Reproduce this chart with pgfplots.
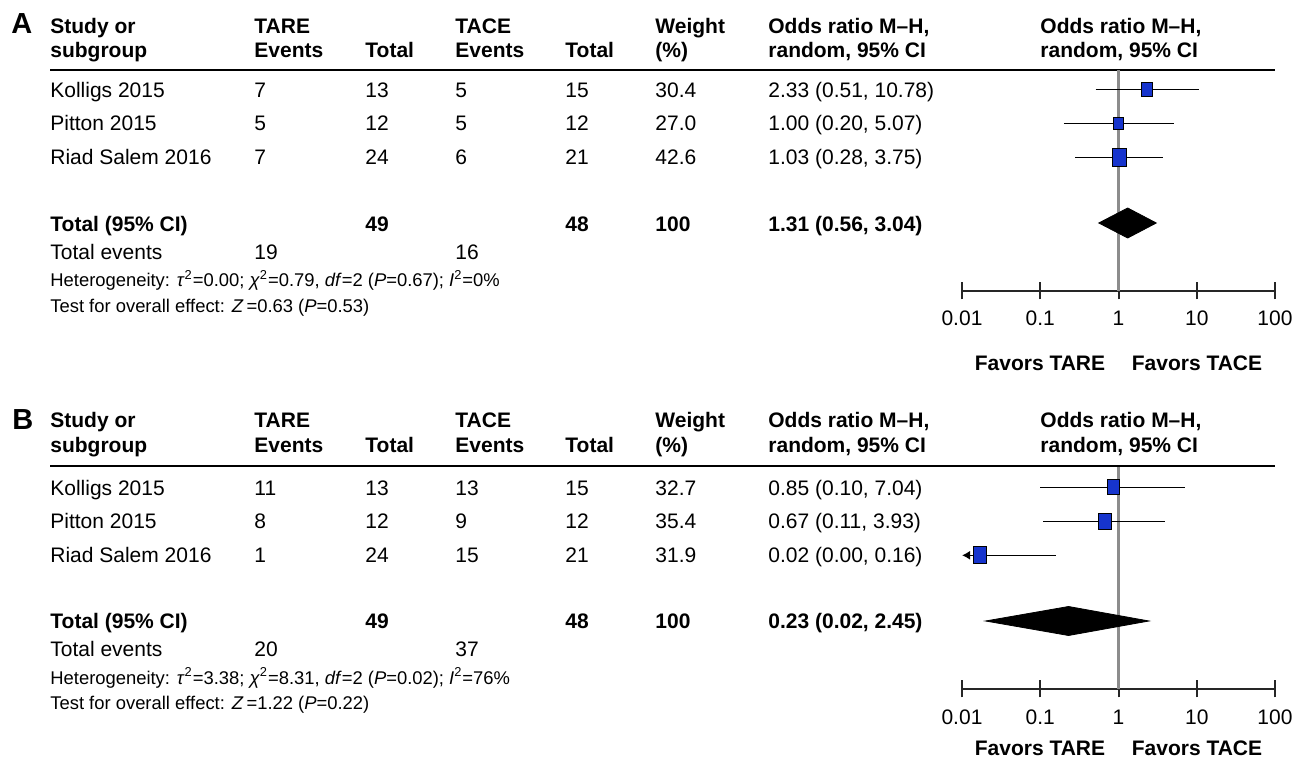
\documentclass[border=0pt]{standalone}
\usepackage{pgfplots}
\pgfplotsset{compat=1.18}
\usepackage{fontspec}
\setmainfont{Liberation Sans}
\usetikzlibrary{arrows.meta}
\definecolor{sqblue}{RGB}{22,52,205}
\definecolor{refgray}{RGB}{140,140,140}
\newcommand{\mf}{\fontsize{10.5}{12.6}\selectfont}
\newcommand{\smf}{\fontsize{9.2}{11}\selectfont}
\begin{document}
\begin{tikzpicture}
\path[use as bounding box] (0,0) rectangle (650.5pt,-379pt);
\begin{scope}[x=0.5pt,y=-0.5pt,every node/.style={inner sep=0pt, anchor=base west}]
% ---------------- Panel A text ----------------
\node[font=\fontsize{14.5}{17}\selectfont\bfseries] at (11,33.3) {A};
\begin{scope}[every node/.append style={font=\mf\bfseries}]
\node at (50,33.5) {Study or}; \node at (50,58) {subgroup};
\node at (254,33.5) {TARE}; \node at (254,58) {Events};
\node at (365,58) {Total};
\node at (455,33.5) {TACE}; \node at (455,58) {Events};
\node at (565,58) {Total};
\node at (655,33.5) {Weight}; \node at (655,58) {(\%)};
\node at (768,33.5) {Odds ratio M--H,}; \node at (768,58) {random, 95\% CI};
\node at (1040,33.5) {Odds ratio M--H,}; \node at (1040,58) {random, 95\% CI};
\node at (50,231.7) {Total (95\% CI)};
\node at (365,231.7) {49}; \node at (565,231.7) {48}; \node at (655,231.7) {100};
\node at (768,231.7) {1.31 (0.56, 3.04)};
\node[anchor=base] at (1040,370.5) {Favors TARE};
\node[anchor=base] at (1197,370.5) {Favors TACE};
\end{scope}
\draw[line width=0.75pt] (50,70) -- (1275,70);
\begin{scope}[every node/.append style={font=\mf}]
\node at (50,97.3) {Kolligs 2015}; \node at (254,97.3) {7}; \node at (365,97.3) {13};
\node at (455,97.3) {5}; \node at (565,97.3) {15}; \node at (655,97.3) {30.4};
\node at (768,97.3) {2.33 (0.51, 10.78)};
\node at (50,130.5) {Pitton 2015}; \node at (254,130.5) {5}; \node at (365,130.5) {12};
\node at (455,130.5) {5}; \node at (565,130.5) {12}; \node at (655,130.5) {27.0};
\node at (768,130.5) {1.00 (0.20, 5.07)};
\node at (50,164.3) {Riad Salem 2016}; \node at (254,164.3) {7}; \node at (365,164.3) {24};
\node at (455,164.3) {6}; \node at (565,164.3) {21}; \node at (655,164.3) {42.6};
\node at (768,164.3) {1.03 (0.28, 3.75)};
\node at (50,260) {Total events}; \node at (254,260) {19}; \node at (455,260) {16};
\end{scope}
\begin{scope}[every node/.append style={font=\smf}]
\node at (50,287) {Heterogeneity: \textit{τ}\textsuperscript{2}=0.00; \textit{χ}\textsuperscript{2}=0.79, \textit{df}=2 (\textit{P}=0.67); \textit{I}\textsuperscript{2}=0\%};
\node at (50,313) {Test for overall effect: \textit{Z}\,=0.63 (\textit{P}=0.53)};
\end{scope}
% ---------------- Panel B text ----------------
\node[font=\fontsize{14.5}{17}\selectfont\bfseries] at (12,429.5) {B};
\begin{scope}[every node/.append style={font=\mf\bfseries}]
\node at (50,428) {Study or}; \node at (50,453) {subgroup};
\node at (254,428) {TARE}; \node at (254,453) {Events};
\node at (365,453) {Total};
\node at (455,428) {TACE}; \node at (455,453) {Events};
\node at (565,453) {Total};
\node at (655,428) {Weight}; \node at (655,453) {(\%)};
\node at (768,428) {Odds ratio M--H,}; \node at (768,453) {random, 95\% CI};
\node at (1040,428) {Odds ratio M--H,}; \node at (1040,453) {random, 95\% CI};
\node at (50,628.5) {Total (95\% CI)};
\node at (365,628.5) {49}; \node at (565,628.5) {48}; \node at (655,628.5) {100};
\node at (768,628.5) {0.23 (0.02, 2.45)};
\node[anchor=base] at (1040,755.5) {Favors TARE};
\node[anchor=base] at (1197,755.5) {Favors TACE};
\end{scope}
\draw[line width=0.75pt] (50,466) -- (1275,466);
\begin{scope}[every node/.append style={font=\mf}]
\node at (50,495.5) {Kolligs 2015}; \node at (254,495.5) {11}; \node at (365,495.5) {13};
\node at (455,495.5) {13}; \node at (565,495.5) {15}; \node at (655,495.5) {32.7};
\node at (768,495.5) {0.85 (0.10, 7.04)};
\node at (50,528.5) {Pitton 2015}; \node at (254,528.5) {8}; \node at (365,528.5) {12};
\node at (455,528.5) {9}; \node at (565,528.5) {12}; \node at (655,528.5) {35.4};
\node at (768,528.5) {0.67 (0.11, 3.93)};
\node at (50,562.5) {Riad Salem 2016}; \node at (254,562.5) {1}; \node at (365,562.5) {24};
\node at (455,562.5) {15}; \node at (565,562.5) {21}; \node at (655,562.5) {31.9};
\node at (768,562.5) {0.02 (0.00, 0.16)};
\node at (50,656.5) {Total events}; \node at (254,656.5) {20}; \node at (455,656.5) {37};
\end{scope}
\begin{scope}[every node/.append style={font=\smf}]
\node at (50,684.5) {Heterogeneity: \textit{τ}\textsuperscript{2}=3.38; \textit{χ}\textsuperscript{2}=8.31, \textit{df}=2 (\textit{P}=0.02); \textit{I}\textsuperscript{2}=76\%};
\node at (50,709.5) {Test for overall effect: \textit{Z}\,=1.22 (\textit{P}=0.22)};
\end{scope}
\end{scope}
% ---------------- Panel A plot ----------------
\begin{axis}[
  scale only axis, anchor=south west, width=156.5pt,
  at={(481pt,-145.5pt)}, height=110.5pt, ymin=-291, ymax=-70,
  xmode=log, xmin=0.01, xmax=100, clip=false,
  axis x line*=bottom, axis y line=none, ytick=\empty,
  xtick={0.01,0.1,1,10,100}, xticklabels={0.01,0.1,1,10,100},
  xminorticks=false, tick align=center, major tick length=8.5pt,
  x axis line style={line width=1pt, color=black!85},
  xtick style={line width=1pt, color=black!85},
  xticklabel style={font=\mf, anchor=base, yshift=-13.25pt, inner sep=0pt}]
\addplot[refgray, line width=1.2pt] coordinates {(1,-291) (1,-70)};
\addplot[black, line width=0.7pt] coordinates {(0.51,-89.5) (10.78,-89.5)};
\addplot[black, line width=0.7pt] coordinates {(0.20,-123.5) (5.07,-123.5)};
\addplot[black, line width=0.7pt] coordinates {(0.28,-157.5) (3.75,-157.5)};
\addplot[only marks, mark=square*, mark size=2.75pt, mark options={fill=sqblue, draw=none, yscale=1.2}] coordinates {(2.33,-89.5)};
\addplot[only marks, mark=square*, mark size=2.5pt, mark options={fill=sqblue, draw=none, yscale=1.25}] coordinates {(1.00,-123.5)};
\addplot[only marks, mark=square*, mark size=3.5pt, mark options={fill=sqblue, draw=none, yscale=1.28}] coordinates {(1.03,-157.5)};
\addplot[fill=black, draw=black] coordinates {(0.56,-223) (1.31,-208) (3.04,-223) (1.31,-238)} -- cycle;
\end{axis}
% ---------------- Panel B plot ----------------
\begin{axis}[
  scale only axis, anchor=south west, width=156.5pt,
  at={(481pt,-344.5pt)}, height=111pt, ymin=-689, ymax=-467,
  xmode=log, xmin=0.01, xmax=100, clip=false,
  axis x line*=bottom, axis y line=none, ytick=\empty,
  xtick={0.01,0.1,1,10,100}, xticklabels={0.01,0.1,1,10,100},
  xminorticks=false, tick align=center, major tick length=8.5pt,
  x axis line style={line width=1pt, color=black!85},
  xtick style={line width=1pt, color=black!85},
  xticklabel style={font=\mf, anchor=base, yshift=-13.25pt, inner sep=0pt}]
\addplot[refgray, line width=1.2pt] coordinates {(1,-689) (1,-467)};
\addplot[black, line width=0.7pt] coordinates {(0.10,-487.3) (7.04,-487.3)};
\addplot[black, line width=0.7pt] coordinates {(0.11,-521.3) (3.93,-521.3)};
\addplot[black, line width=0.7pt, {Latex[length=4pt,width=4.5pt]}-] coordinates {(0.01,-555.3) (0.16,-555.3)};
\addplot[only marks, mark=square*, mark size=3pt, mark options={fill=sqblue, draw=none, yscale=1.25}] coordinates {(0.85,-487.3)};
\addplot[only marks, mark=square*, mark size=3.2pt, mark options={fill=sqblue, draw=none, yscale=1.3}] coordinates {(0.67,-521.3)};
\addplot[only marks, mark=square*, mark size=3.25pt, mark options={fill=sqblue, draw=none, yscale=1.3}] coordinates {(0.017,-555.3)};
\addplot[fill=black, draw=black] coordinates {(0.02,-621) (0.23,-606.5) (2.45,-621) (0.23,-635.5)} -- cycle;
\end{axis}
\end{tikzpicture}
\end{document}
